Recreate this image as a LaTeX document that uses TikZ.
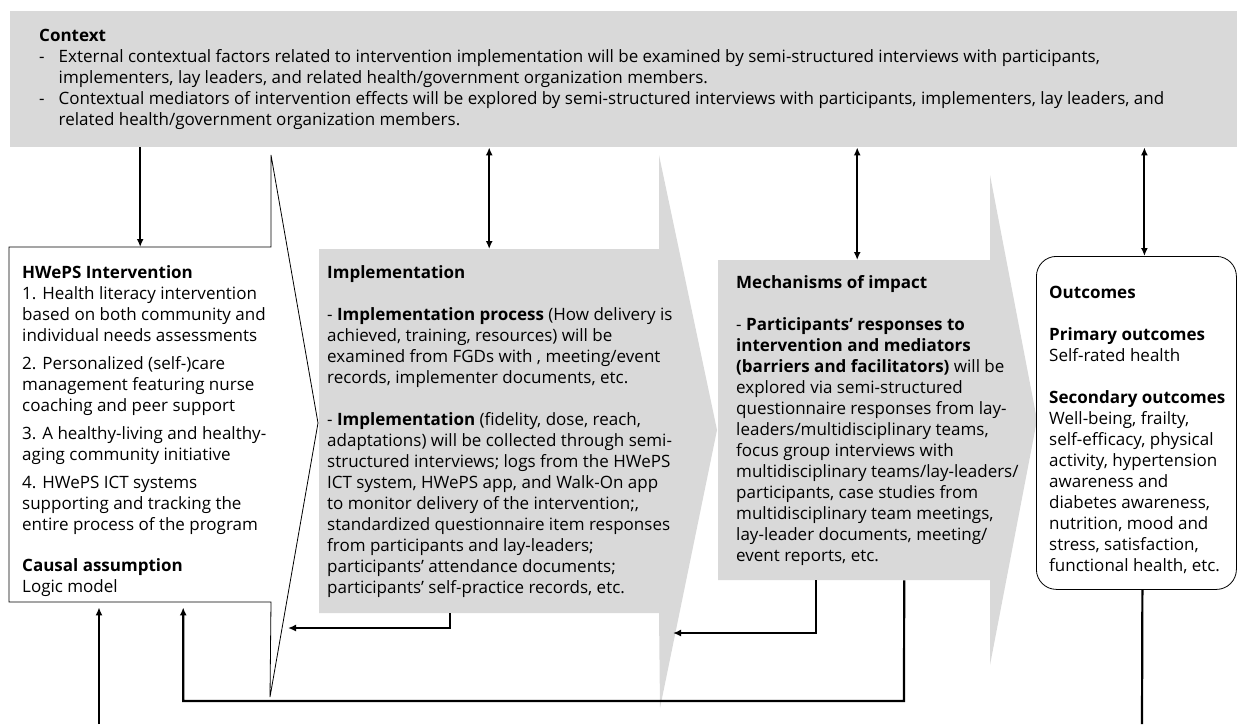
\documentclass[tikz,border=0pt]{standalone}
\usepackage{fontspec}
\setmainfont{Open Sans}
\usetikzlibrary{arrows.meta}
\definecolor{boxgray}{RGB}{217,217,217}
\tikzset{
	arr/.style={line width=2.2pt,-{Latex[length=8pt,width=7pt]}},
	dblarr/.style={line width=2pt,{Latex[length=8pt,width=7pt]}-{Latex[length=8pt,width=7pt]}},
	anchorbox/.style={inner sep=0pt,anchor=north west},
	blocktext/.style={anchor=north west,align=left,inner sep=0pt,font=\fontsize{17}{21}\selectfont},
}
\begin{document}
\begin{tikzpicture}[line join=miter,x=1pt,y=-1pt]
					\useasboundingbox (0,0) rectangle (1239,724);
					%% context band
					\node[anchorbox,fill=boxgray,minimum width=1227,minimum height=136] (context) at (10,11) {};
					\node[blocktext] (contexttext) at (39,26.3) {\strut\textbf{Context}\\
						\makebox[19.5pt][l]{-}External contextual factors related to intervention implementation will be examined by semi-structured interviews with participants,\\
						\hspace*{19.5pt}implementers, lay leaders, and related health/government organization members.\\
						\makebox[19.5pt][l]{-}Contextual mediators of intervention effects will be explored by semi-structured interviews with participants, implementers, lay leaders, and\\
						\hspace*{19.5pt}related health/government organization members.};
					%% gray chevrons
					\fill[boxgray] (319,249) -- (659,249) -- (659,155) -- (717,430) -- (660,708) -- (659,613) -- (319,613) -- cycle;
					\node[anchorbox,minimum width=340,minimum height=364] (impl) at (319,249) {};
					\fill[boxgray] (718,260) -- (990,260) -- (990,175) -- (1037,420) -- (990,665) -- (990,580) -- (718,580) -- cycle;
					\node[anchorbox,minimum width=272,minimum height=320] (mech) at (718,260) {};
					%% intervention box with its open arrow
					\draw[line width=0.8pt,fill=white] (9,247) -- (271,247) -- (271,155) -- (318,423) -- (270,697) -- (271,602) -- (9,602) -- cycle;
					\node[anchorbox,minimum width=262,minimum height=355] (interv) at (9,247) {};
					\node[anchorbox,draw,line width=0.8pt,fill=white,rounded corners=20pt,minimum width=200,minimum height=333] (outc) at (1036,256) {};
					%% texts
					\node[blocktext] (intervtext) at (22,263.3) {\strut\textbf{HWePS Intervention}\\
						1. Health literacy intervention\\
						based on both community and\\
						individual needs assessments\\[7pt]
						2. Personalized (self-)care\\
						management featuring nurse\\
						coaching and peer support\\[7pt]
						3. A healthy-living and healthy-\\
						aging community initiative\\[7pt]
						4. HWePS ICT systems\\
						supporting and tracking the\\
						entire process of the program\\[20pt]
						\textbf{Causal assumption}\\
						Logic model};
					\node[blocktext] (impltext) at (327,263.3) {\strut\textbf{Implementation}\\[21pt]
						- \textbf{Implementation process} (How delivery is\\
						achieved, training, resources) will be\\
						examined from FGDs with , meeting/event\\
						records, implementer documents, etc.\\[21pt]
						- \textbf{Implementation} (fidelity, dose, reach,\\
						adaptations) will be collected through semi-\\
						structured interviews; logs from the HWePS\\
						ICT system, HWePS app, and Walk-On app\\
						to monitor delivery of the intervention;,\\
						standardized questionnaire item responses\\
						from participants and lay-leaders;\\
						participants' attendance documents;\\
						participants' self-practice records, etc.};
					\node[blocktext] (mechtext) at (736,273.3) {\strut\textbf{Mechanisms of impact}\\[21pt]
						- \textbf{Participants' responses to}\\
						\textbf{intervention and mediators}\\
						\textbf{(barriers and facilitators)} will be\\
						explored via semi-structured\\
						questionnaire responses from lay-\\
						leaders/multidisciplinary teams,\\
						focus group interviews with\\
						multidisciplinary teams/lay-leaders/\\
						participants, case studies from\\
						multidisciplinary team meetings,\\
						lay-leader documents, meeting/\\
						event reports, etc.};
					\node[blocktext] (outctext) at (1049,283.3) {\strut\textbf{Outcomes}\\[21pt]
						\textbf{Primary outcomes}\\
						Self-rated health\\[21pt]
						\textbf{Secondary outcomes}\\
						Well-being, frailty,\\
						self-efficacy, physical\\
						activity, hypertension\\
						awareness and\\
						diabetes awareness,\\
						nutrition, mood and\\
						stress, satisfaction,\\
						functional health, etc.};
					%% arrows from context
					\draw[arr] (context.south -| interv.north) -- (interv.north);
					\draw[dblarr] (context.south -| impl.north) -- (impl.north);
					\draw[dblarr] ([xshift=3pt]mech.north |- context.south) -- ([xshift=3pt]mech.north);
					\draw[dblarr] ([xshift=8pt]outc.north |- context.south) -- ([xshift=8pt]outc.north);
					%% feedback arrows
					\coordinate (implback) at (288,628);
					\draw[arr] ([xshift=-39pt]impl.south) |- (implback);
					\coordinate (mechback) at (673,633);
					\draw[arr] ([xshift=-38pt]mech.south) |- (mechback);
					\coordinate (loopcorner) at (904,701);
					\draw[arr,shorten >=5pt] ([xshift=50pt]mech.south) -- (loopcorner) -| ([xshift=43pt]interv.south);
					\coordinate (leftin) at (99,724);
					\draw[arr,shorten >=5pt] (leftin) -- (leftin |- interv.south);
					\coordinate (rightout) at (1142,724);
					\draw[line width=2.2pt] ([xshift=6pt]outc.south) -- (rightout);
				\end{tikzpicture}
\end{document}
